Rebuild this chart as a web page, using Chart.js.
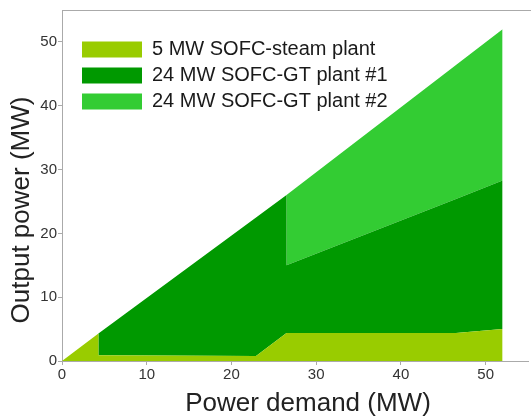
<!DOCTYPE html>
<html>
<head>
<meta charset="utf-8">
<script src="https://cdn.jsdelivr.net/npm/chart.js@4"></script>
<style>
  html, body { margin: 0; padding: 0; background: #fff; }
  #wrap { width: 531px; height: 420px; }
</style>
</head>
<body>
<div id="wrap"><canvas id="areaChart"></canvas></div>
<script>
// power demand (MW), x positions of the outline corners
const demand = [0, 4.3, 4.3, 22.9, 26.5, 26.5, 46.5, 52];
// upper edge of each stacked area (MW)
const steamTop = [0, 4.3, 0.9, 0.8, 4.4, 4.4, 4.4, 5.0];
const gt1Top = [0, 4.3, 4.3, 22.5, 26.0, 15.0, 25.4, 28.3];
const gt2Top = [0, 4.3, 4.3, 22.5, 26.0, 26.0, 46.4, 52.0];

const seriesNames = ['5 MW SOFC-steam plant', '24 MW SOFC-GT plant #1', '24 MW SOFC-GT plant #2'];
const xTicks = [0, 10, 20, 30, 40, 50];
const yTicks = [0, 10, 20, 30, 40, 50];
const xTitle = 'Power demand (MW)';
const yTitle = 'Output power (MW)';

function points(ys) {
    return demand.map((x, i) => ({x: x, y: ys[i]}));
}

const fontFamily = '"Liberation Sans", Arial, sans-serif';

// box top edge, axis titles and a nudge for the legend inside the plot
const framePlugin = {
    id: 'frame',
    afterLayout(chart) {
        if (chart.legend) {
            chart.legend.left += 14;
            chart.legend.top += 33.5;
        }
    },
    afterDraw(chart) {
        const {ctx, chartArea} = chart;
        ctx.save();
        ctx.strokeStyle = '#aaaaaa';
        ctx.lineWidth = 1;
        ctx.beginPath();
        ctx.moveTo(chartArea.left, chartArea.top + 0.5);
        ctx.lineTo(chart.width, chartArea.top + 0.5);
        ctx.stroke();

        ctx.fillStyle = '#222';
        ctx.font = '26px ' + fontFamily;
        ctx.textAlign = 'center';
        ctx.textBaseline = 'middle';
        ctx.fillText(xTitle, chartArea.left + 246, 404);

        ctx.translate(22, 210);
        ctx.rotate(-Math.PI / 2);
        ctx.fillText(yTitle, 0, 0);
        ctx.restore();
    }
};

const ctx = document.getElementById('areaChart').getContext('2d');
const chart = new Chart(ctx, {
    type: 'line',
    data: {
        datasets: [
            {
                label: seriesNames[0],
                data: points(steamTop),
                backgroundColor: '#99cc00',
                borderWidth: 0,
                fill: 'origin'
            },
            {
                label: seriesNames[1],
                data: points(gt1Top),
                backgroundColor: '#009900',
                borderWidth: 0,
                fill: '-1'
            },
            {
                label: seriesNames[2],
                data: points(gt2Top),
                backgroundColor: '#33cc33',
                borderWidth: 0,
                fill: '-1'
            }
        ]
    },
    options: {
        responsive: true,
        maintainAspectRatio: false,
        animation: false,
        layout: {padding: {top: 10, right: 3, left: 0, bottom: 0}},
        elements: {
            point: {radius: 0, hoverRadius: 0},
            line: {tension: 0}
        },
        plugins: {
            tooltip: {enabled: false},
            legend: {
                position: 'chartArea',
                align: 'start',
                labels: {
                    boxWidth: 60,
                    boxHeight: 16,
                    padding: 6,
                    color: '#1a1a1a',
                    font: {family: fontFamily, size: 20, lineHeight: 1}
                }
            }
        },
        scales: {
            x: {
                type: 'linear',
                min: 0,
                max: 55,
                afterFit(scale) { scale.height = 59; },
                afterBuildTicks(scale) { scale.ticks = xTicks.map(v => ({value: v})); },
                grid: {display: true, drawOnChartArea: false, tickLength: 4, color: '#aaaaaa'},
                border: {color: '#aaaaaa'},
                ticks: {
                    padding: 1,
                    color: '#333',
                    maxRotation: 0,
                    font: {family: fontFamily, size: 15}
                }
            },
            y: {
                min: 0,
                max: 55,
                afterFit(scale) { scale.width = 62; },
                afterBuildTicks(scale) { scale.ticks = yTicks.map(v => ({value: v})); },
                grid: {display: true, drawOnChartArea: false, tickLength: 4, color: '#aaaaaa'},
                border: {color: '#aaaaaa'},
                ticks: {
                    padding: 1,
                    color: '#333',
                    font: {family: fontFamily, size: 15}
                }
            }
        }
    },
    plugins: [framePlugin]
});
</script>
</body>
</html>
